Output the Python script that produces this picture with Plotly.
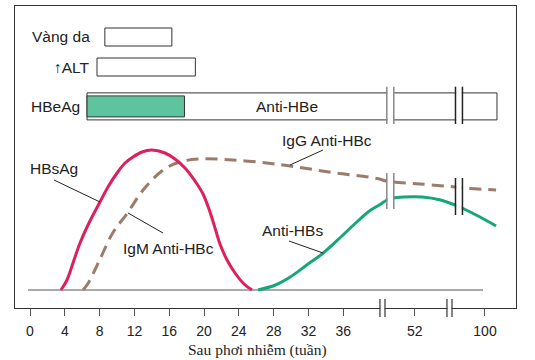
import numpy as np
import plotly.graph_objects as go

# ---- broken time axis: weeks -> axis position ----
AXIS_WEEKS = [0, 40, 52, 100, 110]
AXIS_POS = [0, 40, 44.2, 52.28, 53.96]


def to_axis(w):
    return np.interp(w, AXIS_WEEKS, AXIS_POS)


tick_weeks = [0, 4, 8, 12, 16, 20, 24, 28, 32, 36, 52, 100]
tick_labels = [str(w) for w in tick_weeks]

# ---- serologic curves (weeks, relative level) ----
hbsag_weeks = [3.56, 4.25, 4.94, 5.75, 6.89, 8.04, 8.96, 10.0, 10.92, 11.83, 12.87, 13.98,
               15.51, 16.66, 17.81, 18.96, 19.88, 20.68, 21.26, 21.83, 22.64, 23.56, 24.59, 25.51]
hbsag_level = [0, 10, 27, 47, 69, 88, 103, 117, 127, 133, 138, 140,
               137, 131, 122, 109, 96, 78, 62, 46, 30, 17, 6, 0]

anti_hbc_weeks = [6.1, 6.7, 8.0, 9.5, 11.2, 13.0, 15.3, 17.2, 19.5, 23.3, 27.2, 29.9, 32.5, 35.6,
                  39.9, 42.6, 44.9, 55.6, 79.5, 84.3, 107.6]
anti_hbc_level = [0, 7, 30, 57, 77, 100, 120, 128, 131, 130, 127, 124, 120.5, 116.5,
                  111.5, 109, 108, 106, 103, 102, 100]

anti_hbs_weeks = [26.2, 28.2, 29.9, 31.8, 33.7, 35.6, 37.3, 39.0, 40.9, 42.9, 44.9, 48.3, 57.3, 69.6, 79.5, 84.3, 96.6, 107.6]
anti_hbs_level = [0, 5, 13, 25, 37, 52, 66, 79, 86, 90, 92, 93, 93, 90, 85, 82, 73, 64]

# ---- timeline rows (weeks) ----
row_names = ["Anti-HBe", "Vàng da", "↑ALT", "HBeAg"]
row_start = [6.55, 8.6, 7.7, 6.55]
row_end = [108.2, 16.3, 19.0, 17.75]

# ---- layout helpers (pixel geometry of the panel) ----
W, H = 535, 360
L, R, T, B = 15, 516, 6, 308
PX_PER_UNIT = 8.703
X0_PX = 30
BASE_PX = 290


def X(px):
    return (px - X0_PX) / PX_PER_UNIT


def Y(py):
    return BASE_PX - py


def PX(px):
    return (px - L) / (R - L)


def PY(py):
    return (B - py) / (B - T)


FONT = "Liberation Sans, Arial, sans-serif"
TXT = "#222222"
RED = "#DE1F5C"
BROWN = "#9C7B6B"
GREEN = "#16A775"
GREEN_FILL = "#5EC4A0"
EDGE = "#333333"

fig = go.Figure()

# timeline bars
row_level = {"Anti-HBe": Y(106.4), "Vàng da": Y(37), "↑ALT": Y(67), "HBeAg": Y(106.4)}
row_thick = {"Anti-HBe": 27, "Vàng da": 18, "↑ALT": 18, "HBeAg": 21}
row_fill = {"Anti-HBe": "white", "Vàng da": "white", "↑ALT": "white", "HBeAg": GREEN_FILL}
for name, s, e in zip(row_names, row_start, row_end):
    a0, a1 = float(to_axis(s)), float(to_axis(e))
    fig.add_trace(go.Bar(
        x=[a1 - a0], base=[a0], y=[row_level[name]], orientation="h",
        width=row_thick[name], marker=dict(color=row_fill[name], line=dict(color=EDGE, width=1)),
        showlegend=False, hoverinfo="skip"))

# curves
fig.add_trace(go.Scatter(x=to_axis(anti_hbc_weeks), y=anti_hbc_level, mode="lines",
                         line=dict(color=BROWN, width=3, dash="12px,7px", shape="spline", smoothing=1.0),
                         showlegend=False, hoverinfo="skip"))
fig.add_trace(go.Scatter(x=to_axis(hbsag_weeks), y=hbsag_level, mode="lines",
                         line=dict(color=RED, width=3, shape="spline", smoothing=1.0),
                         showlegend=False, hoverinfo="skip"))
fig.add_trace(go.Scatter(x=to_axis(anti_hbs_weeks), y=anti_hbs_level, mode="lines",
                         line=dict(color=GREEN, width=3, shape="spline", smoothing=1.0),
                         showlegend=False, hoverinfo="skip"))

shapes = []
# baseline
shapes.append(dict(type="line", xref="x", yref="y", x0=X(28), x1=X(483), y0=0, y1=0,
                   line=dict(color="#555555", width=1), layer="below"))

# chart breaks (curves and Anti-HBe box)
CHART_BREAKS = [(41.40, "#888888", (81, 117)), (49.29, "#222222", (75, 112))]
HALF = 0.40
for pos, col, (lo, hi) in CHART_BREAKS:
    shapes.append(dict(type="rect", xref="x", yref="y", x0=pos - HALF + 0.08, x1=pos + HALF - 0.08,
                       y0=lo + 2, y1=hi - 2, fillcolor="white", line=dict(width=0), layer="above"))
    shapes.append(dict(type="rect", xref="x", yref="y", x0=pos - HALF + 0.08, x1=pos + HALF - 0.08,
                       y0=Y(124) + 2, y1=Y(86.7) - 2, fillcolor="white", line=dict(width=0), layer="above"))
    for dx in (-HALF, HALF):
        shapes.append(dict(type="line", xref="x", yref="y", x0=pos + dx, x1=pos + dx, y0=lo, y1=hi,
                           line=dict(color=col, width=1.5), layer="above"))
        shapes.append(dict(type="line", xref="x", yref="y", x0=pos + dx, x1=pos + dx,
                           y0=Y(124), y1=Y(86.7), line=dict(color=col, width=1.5), layer="above"))

# axis breaks on the frame bottom
AXIS_BREAKS = [40.50, 48.20]
AH = 0.29
for pos in AXIS_BREAKS:
    shapes.append(dict(type="rect", xref="x", yref="paper", x0=pos - AH + 0.06, x1=pos + AH - 0.06,
                       y0=-0.01, y1=0.01, fillcolor="white", line=dict(width=0), layer="above"))
    for dx in (-AH, AH):
        shapes.append(dict(type="line", xref="x", yref="paper", x0=pos + dx, x1=pos + dx,
                           y0=PY(317), y1=PY(299), line=dict(color="#444444", width=1.3), layer="above"))

# leader lines
leaders = [((54, 180), (100, 202)), ((128, 213), (163, 233)), ((323, 150), (290, 165)), ((289, 241), (323, 253))]
for (ax, ay), (bx, by) in leaders:
    shapes.append(dict(type="line", xref="x", yref="y", x0=X(ax), y0=Y(ay), x1=X(bx), y1=Y(by),
                       line=dict(color="#222222", width=1), layer="above"))

annotations = []


def label(text, px, py, anchor="left", size=15.5, family=FONT):
    annotations.append(dict(text=text, xref="paper", yref="paper", x=PX(px), y=PY(py),
                            xanchor=anchor, yanchor="middle", showarrow=False,
                            font=dict(family=family, size=size, color=TXT), borderpad=0))


label("Vàng da", 91, 37, "right")
label("↑ALT", 91, 67, "right")
label("HBeAg", 81, 106.5, "right")
label("Anti-HBe", 287, 106, "center")
label("HBsAg", 29, 168)
label("IgM Anti-HBc", 122, 248)
label("IgG Anti-HBc", 281, 140)
label("Anti-HBs", 261, 230)
label("Sau phơi nhiễm (tuần)", 257.5, 350, "center", size=15.5,
      family="Liberation Serif, Times New Roman, serif")

fig.update_layout(
    width=W, height=H,
    margin=dict(l=L, r=W - R, t=T, b=H - B, pad=0),
    paper_bgcolor="white", plot_bgcolor="white",
    barmode="overlay", showlegend=False,
    shapes=shapes, annotations=annotations,
    xaxis=dict(range=[X(L), X(R)], showgrid=False, zeroline=False,
               showline=True, mirror=True, linecolor=EDGE, linewidth=1,
               ticks="outside", ticklen=7, tickcolor="#555555", tickwidth=1,
               tickvals=[float(v) for v in to_axis(tick_weeks)], ticktext=tick_labels,
               tickfont=dict(family=FONT, size=14, color=TXT), ticklabelstandoff=3),
    yaxis=dict(range=[Y(B), Y(T)], showgrid=False, zeroline=False,
               showline=True, mirror=True, linecolor=EDGE, linewidth=1,
               showticklabels=False, ticks=""),
)

fig.write_html("out.html", config={"displayModeBar": False},
               post_script="document.body.style.margin='0';document.body.style.padding='0';")
